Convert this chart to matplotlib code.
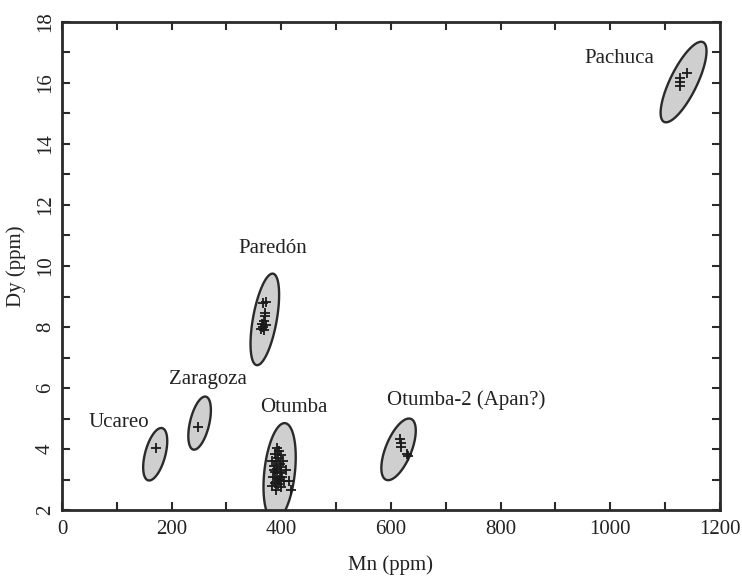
import numpy as np
import matplotlib
matplotlib.use("Agg")
import matplotlib.pyplot as plt
from matplotlib.ticker import MultipleLocator

plt.rcParams['font.family'] = ['Liberation Serif', 'DejaVu Serif']

# source groups: label, label position, ellipse centre, top-point offset, half width
groups = ['Ucareo', 'Zaragoza', 'Otumba', 'Paredón', 'Otumba-2 (Apan?)', 'Pachuca']
label_x = [104, 266, 422, 385, 737, 1016]
label_y = [4.86, 6.29, 5.36, 10.57, 5.59, 16.8]
ell_cx = [170, 251, 397, 370, 614, 1134]
ell_cy = [3.83, 4.85, 3.25, 8.25, 3.99, 16.03]
ell_mx = [11, 10, 9, 14, 19, 32]
ell_my = [0.86, 0.87, 1.6, 1.5, 1.01, 1.32]
ell_w = [19, 18, 28, 22, 25, 27]

# individual samples (Mn, Dy)
ucareo_mn = [172]
ucareo_dy = [4.05]
zaragoza_mn = [248]
zaragoza_dy = [4.72]
otumba_mn = [392, 396, 388, 400, 394, 403, 390, 397, 386, 400, 393, 408, 389, 397, 385,
             402, 392, 398, 388, 405, 415, 394, 383, 400, 391, 418, 387, 395, 399, 384]
otumba_dy = [4.05, 3.95, 3.85, 3.8, 3.7, 3.6, 3.6, 3.5, 3.45, 3.4, 3.35, 3.3, 3.25, 3.2, 3.1,
             3.1, 3.05, 2.95, 2.9, 2.95, 2.95, 2.85, 2.8, 2.75, 2.65, 2.65, 3.3, 3.0, 3.25, 3.6]
paredon_mn = [372, 366, 370, 371, 368, 365, 372, 367, 363, 369]
paredon_dy = [8.82, 8.8, 8.45, 8.35, 8.2, 8.1, 8.05, 8.0, 7.95, 7.9]
otumba2_mn = [616, 618, 619, 629, 632]
otumba2_dy = [4.32, 4.2, 4.08, 3.85, 3.78]
pachuca_mn = [1141, 1128, 1128, 1128]
pachuca_dy = [16.32, 16.15, 16.03, 15.9]

fig = plt.figure(figsize=(7.42, 5.77), dpi=100)
ax = fig.add_axes([0.0836, 0.116, 0.8864, 0.846])

t = np.linspace(0, 2 * np.pi, 200)
for cx, cy, mx, my, w in zip(ell_cx, ell_cy, ell_mx, ell_my, ell_w):
    ex = cx + mx * np.cos(t) + w * np.sin(t)
    ey = cy + my * np.cos(t)
    ax.fill(ex, ey, facecolor='#cfcfcf', edgecolor='#2a2a2a', linewidth=1.7, zorder=2)

all_mn = ucareo_mn + zaragoza_mn + otumba_mn + paredon_mn + otumba2_mn + pachuca_mn
all_dy = ucareo_dy + zaragoza_dy + otumba_dy + paredon_dy + otumba2_dy + pachuca_dy
ax.plot(all_mn, all_dy, linestyle='none', marker='+', color='#1a1a1a',
        markersize=7.5, markeredgewidth=1.3, zorder=3)

for name, lx, ly in zip(groups, label_x, label_y):
    ax.text(lx, ly, name, ha='center', va='center', fontsize=15, color='#222222', zorder=4)

ax.set_xlim(0, 1200)
ax.set_ylim(2, 18)
ax.xaxis.set_major_locator(MultipleLocator(200))
ax.xaxis.set_minor_locator(MultipleLocator(100))
ax.yaxis.set_major_locator(MultipleLocator(2))
ax.yaxis.set_minor_locator(MultipleLocator(1))
ax.tick_params(which='both', direction='in', top=True, right=True,
               length=6, width=1.5, color='#2a2a2a', labelsize=15, labelcolor='#222222')
ax.tick_params(axis='x', pad=7)
ax.tick_params(axis='y', pad=5)
for lab in ax.get_yticklabels():
    lab.set_rotation(90)
    lab.set_va('center')
for sp in ax.spines.values():
    sp.set_linewidth(2.0)
    sp.set_color('#2a2a2a')

ax.set_xlabel('Mn (ppm)', fontsize=15, color='#222222', labelpad=12)
ax.set_ylabel('Dy (ppm)', fontsize=15, color='#222222', labelpad=7)

fig.savefig('out.png', dpi=100)
